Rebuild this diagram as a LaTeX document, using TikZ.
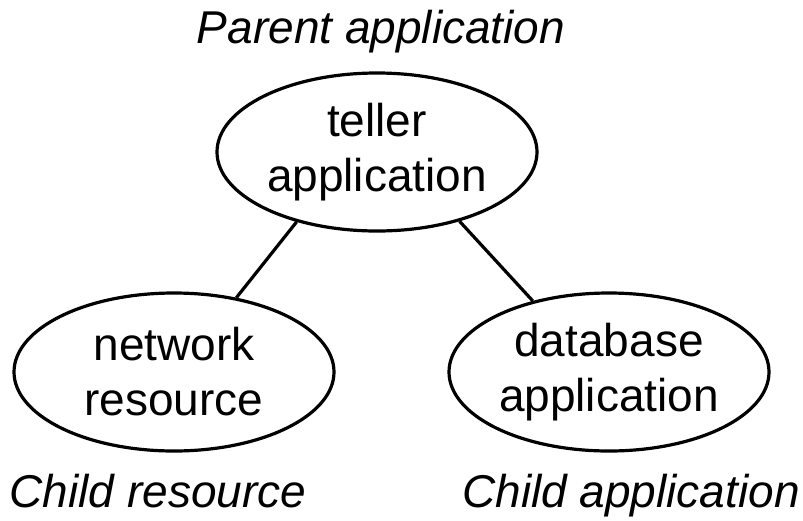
\documentclass[tikz,border=0pt]{standalone}
\usepackage{fontspec}
\setmainfont{Liberation Sans}
\usetikzlibrary{shapes.geometric}
\begin{document}
\begin{tikzpicture}[x=1pt,y=-1pt,
  oval/.style={ellipse, draw, line width=3.2pt, inner sep=0pt, minimum width=320pt, minimum height=158pt, align=center, font=\fontsize{46}{55}\selectfont},
  lbl/.style={font=\fontsize{46}{55}\selectfont\itshape, inner sep=0pt, anchor=base},
  link/.style={line width=3.2pt}]
\path[use as bounding box] (0,0) rectangle (803,520);
\node[oval] (top) at (377,152) {teller\\application};
\node[oval] (left) at (174,372) {network\\resource};
\node[oval] (right) at (609,372) {database\\application};
\node[lbl] (ptext) at (381,43) {Parent application};
\node[lbl] (ltext) at (158,507) {Child resource};
\node[lbl] (rtext) at (631,507) {Child application};
\draw[link] (top.221) -- (left.50);
\draw[link] (top.320) -- (right.137);
\end{tikzpicture}
\end{document}
